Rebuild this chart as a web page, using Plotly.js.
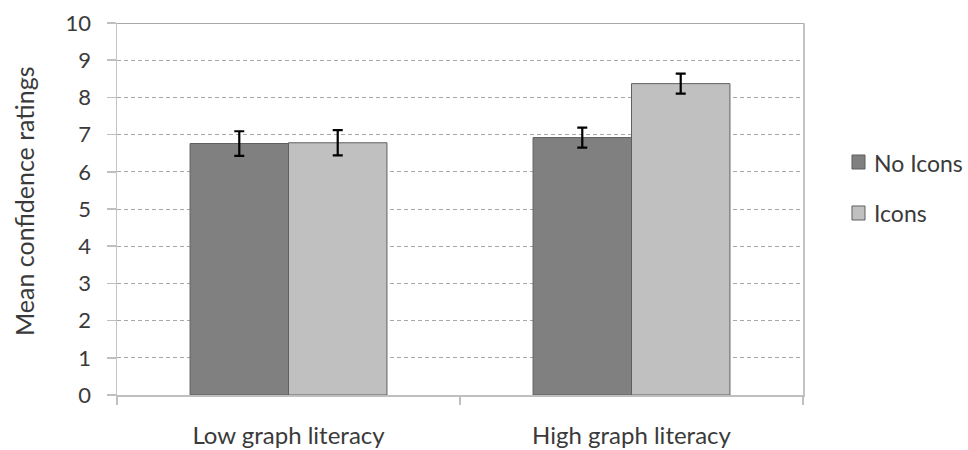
<!DOCTYPE html>
<html>
<head>
<meta charset="utf-8">
<script src="https://cdn.plot.ly/plotly-3.0.1.min.js"></script>
<style>
  html, body { margin: 0; padding: 0; background: #ffffff; }
  #chart { width: 968px; height: 450px; }
</style>
</head>
<body>
<div id="chart"></div>
<script>
// Mean confidence ratings by graph-literacy group, with and without icons
const groups = ['Low graph literacy', 'High graph literacy'];
const seriesNames = ['No Icons', 'Icons'];
const seriesColors = ['#808080', '#c0c0c0'];
const noIconsMean = [6.76, 6.92];
const noIconsErr = [0.33, 0.27];
const iconsMean = [6.78, 8.37];
const iconsErr = [0.34, 0.27];
const yTicks = [0, 1, 2, 3, 4, 5, 6, 7, 8, 9, 10];
const yTitle = 'Mean confidence ratings';

const FONT = 'Lato, "Open Sans", sans-serif';
const TEXT = '#3a3a3a';
const BAR_EDGE = '#5f5f5f';

function barTrace(name, values, errors, fill) {
  return {
    type: 'bar',
    name: name,
    x: groups,
    y: values,
    marker: { color: fill, line: { color: BAR_EDGE, width: 1 } },
    error_y: { type: 'data', array: errors, visible: true, color: '#000000', thickness: 2.2, width: 5 },
    hoverinfo: 'y'
  };
}

const data = [
  barTrace(seriesNames[0], noIconsMean, noIconsErr, seriesColors[0]),
  barTrace(seriesNames[1], iconsMean, iconsErr, seriesColors[1])
];

// Key on the right: a swatch and a label per series, placed in paper units
const keyRows = [
  { top: 0.6452, bottom: 0.6075, mid: 0.6237 },
  { top: 0.5081, bottom: 0.4704, mid: 0.4892 }
];
const keyShapes = keyRows.map((r, i) => ({
  type: 'rect', xref: 'paper', yref: 'paper',
  x0: 1.0714, x1: 1.0904, y0: r.bottom, y1: r.top,
  fillcolor: seriesColors[i],
  line: { color: BAR_EDGE, width: 1 }
}));
const keyLabels = keyRows.map((r, i) => ({
  xref: 'paper', yref: 'paper',
  x: 1.100, y: r.mid,
  xanchor: 'left', yanchor: 'middle',
  text: seriesNames[i],
  showarrow: false,
  font: { family: FONT, size: 23, color: TEXT }
}));

const layout = {
  width: 968,
  height: 450,
  margin: { l: 117, r: 165, t: 23, b: 55, pad: 0 },
  paper_bgcolor: '#ffffff',
  plot_bgcolor: '#ffffff',
  font: { family: FONT, size: 20, color: TEXT },
  barmode: 'group',
  bargap: 0.426,
  bargroupgap: 0,
  showlegend: false,
  xaxis: {
    type: 'category',
    showgrid: false,
    showline: true,
    linecolor: '#bfbfbf',
    linewidth: 1.5,
    ticks: 'outside',
    tickson: 'boundaries',
    ticklen: 8,
    tickcolor: '#bfbfbf',
    tickwidth: 1.5,
    ticklabelstandoff: 19,
    tickfont: { family: FONT, size: 24, color: TEXT },
    zeroline: false,
    fixedrange: true
  },
  yaxis: {
    range: [0, 10],
    tickvals: yTicks,
    ticktext: yTicks.map(String),
    showline: true,
    mirror: true,
    linecolor: '#c4c4c4',
    linewidth: 1.5,
    ticks: 'outside',
    ticklen: 9,
    tickcolor: '#bfbfbf',
    tickwidth: 1.5,
    ticklabelstandoff: 11,
    tickfont: { family: FONT, size: 22, color: TEXT },
    showgrid: true,
    gridcolor: '#a8a8a8',
    gridwidth: 1,
    griddash: '4px,3px',
    zeroline: false,
    fixedrange: true
  },
  annotations: [
    {
      xref: 'paper', yref: 'paper',
      x: 0, xshift: -93, y: 0.5215,
      xanchor: 'center', yanchor: 'middle',
      textangle: -90,
      text: yTitle,
      showarrow: false,
      font: { family: FONT, size: 25, color: TEXT }
    }
  ].concat(keyLabels),
  shapes: [
    {
      type: 'line', xref: 'paper', yref: 'y',
      x0: 0, x1: 1, y0: 10, y1: 10,
      line: { color: '#8c8c8c', width: 1.5 },
      layer: 'above'
    }
  ].concat(keyShapes)
};

Plotly.newPlot('chart', data, layout, { displayModeBar: false, staticPlot: true });
</script>
</body>
</html>
